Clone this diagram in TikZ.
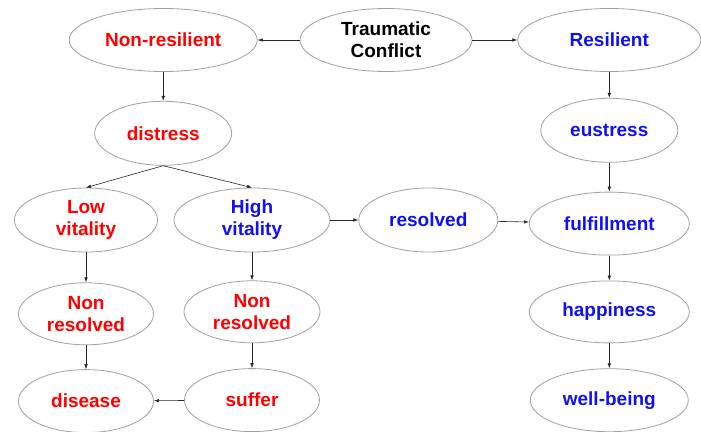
\documentclass[tikz,border=0pt]{standalone}
\usepackage{fontspec}
\setmainfont{Liberation Sans}
\usetikzlibrary{positioning,shapes.geometric,arrows.meta}

\definecolor{badred}{RGB}{255,0,0}
\definecolor{goodblue}{RGB}{16,16,240}
\definecolor{rimgray}{RGB}{160,160,160}

\tikzset{
  state/.style={ellipse, draw=rimgray, line width=0.8pt, fill=white,
    inner sep=0pt, align=center, minimum height=63pt,
    font=\bfseries\fontsize{19}{22}\selectfont},
  negstate/.style={state, text=badred},
  posstate/.style={state, text=goodblue},
  flow/.style={-{Latex[length=5pt,width=3.5pt]}, draw=black!85, line width=0.6pt}
}

\begin{document}
\begin{tikzpicture}[x=1pt,y=-1pt]
  \useasboundingbox (0,0) rectangle (701,431);

  \node[state, minimum width=172pt] (trauma) at (386,40) {Traumatic\\Conflict};
  \node[negstate, minimum width=188pt, left=42pt of trauma] (nonres) {Non-resilient};
  \node[posstate, minimum width=183pt, right=45pt of trauma] (res) {Resilient};

  \node[negstate, minimum width=137pt, minimum height=64pt, below=29pt of nonres] (distress) {distress};
  \node[posstate, minimum width=137pt, minimum height=64pt, below=26pt of res] (eustress) {eustress};

  \node[negstate, minimum width=143pt, minimum height=64pt] (lowvit) at (86,220) {Low\\vitality};
  \node[posstate, minimum width=156pt, minimum height=64pt] (highvit) at (252,220) {High\\vitality};
  \node[posstate, minimum width=139pt, minimum height=64pt, right=28pt of highvit] (resolved) {resolved};

  \node[negstate, minimum width=135pt, minimum height=62pt, below=30pt of lowvit] (nresL) {Non\\resolved};
  \node[negstate, minimum width=136pt, minimum height=62pt, below=28pt of highvit] (nresH) {Non\\resolved};
  \node[negstate, minimum width=135pt, below=24pt of nresL] (disease) {disease};
  \node[negstate, minimum width=135pt, below=25pt of nresH] (suffer) {suffer};

  \node[posstate, minimum width=160pt, below=29pt of eustress] (fulfil) {fulfillment};
  \node[posstate, minimum width=160pt, minimum height=62pt, below=25pt of fulfil] (happy) {happiness};
  \node[posstate, minimum width=158pt, below=25pt of happy] (wellb) {well-being};

  \draw[flow] (trauma) -- (nonres);
  \draw[flow] (trauma) -- (res);
  \draw[flow] (nonres) -- (distress);
  \draw[flow] (res) -- (eustress);
  \draw[flow] (distress.south) -- (lowvit.north);
  \draw[flow] (distress.south) -- (highvit.north);
  \draw[flow] (lowvit) -- (nresL);
  \draw[flow] (nresL) -- (disease);
  \draw[flow] (highvit) -- (nresH);
  \draw[flow] (nresH) -- (suffer);
  \draw[flow] (suffer) -- (disease);
  \draw[flow] (highvit) -- (resolved);
  \draw[flow] (resolved) -- (fulfil);
  \draw[flow] (eustress) -- (fulfil);
  \draw[flow] (fulfil) -- (happy);
  \draw[flow] (happy) -- (wellb);
\end{tikzpicture}
\end{document}
